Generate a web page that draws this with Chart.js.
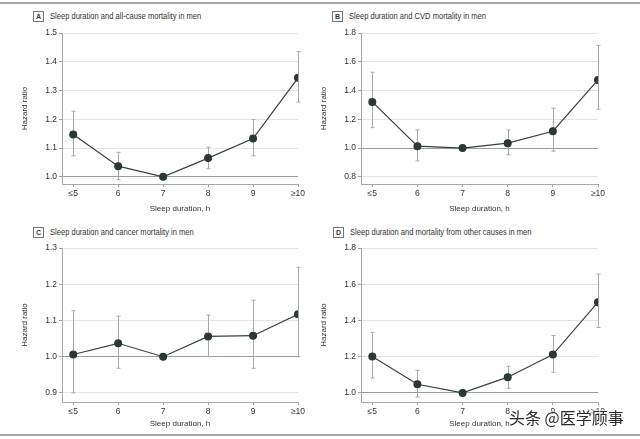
<!DOCTYPE html>
<html>
<head>
<meta charset="utf-8">
<script src="https://cdn.jsdelivr.net/npm/chart.js@4.4.1/dist/chart.umd.min.js"></script>
<style>
  body { margin: 0; background: #fff; }
  #page { position: relative; width: 640px; height: 439px; background: #fff; overflow: hidden;
          font-family: "Liberation Sans Narrow", "Liberation Sans", Arial, sans-serif; color: #333; }
  .rule { position: absolute; left: 0; width: 640px; height: 2px; background: #a5a5a5; }
  .title { position: absolute; font-size: 9px; line-height: 11px; white-space: nowrap; color: #333; }
  .title b { display: inline-block; width: 9px; height: 9px; line-height: 9px; border: 1px solid #777;
             text-align: center; font-size: 7px; margin-right: 6px; vertical-align: middle; }
  .title span { display: inline-block; vertical-align: middle; transform: scaleX(0.84); transform-origin: left center; }
  .panel { position: absolute; width: 300px; height: 190px; }
  #mark { position: absolute; left: 509px; top: 405px; font-family: "Noto Sans CJK SC", sans-serif;
          font-size: 16px; color: #2a2a2a; white-space: nowrap;
          text-shadow: 0 0 2px #fff, 0 0 2px #fff, 0 0 3px #fff; }
</style>
</head>
<body>
<div id="page">
  <div class="rule" style="top:2px"></div>
  <div class="rule" style="top:434px"></div>

  <div class="title" style="left:33px;top:11px"><b>A</b><span>Sleep duration and all-cause mortality in men</span></div>
  <div class="title" style="left:332px;top:11px"><b>B</b><span>Sleep duration and CVD mortality in men</span></div>
  <div class="title" style="left:33px;top:227px"><b>C</b><span>Sleep duration and cancer mortality in men</span></div>
  <div class="title" style="left:333px;top:227px"><b>D</b><span>Sleep duration and mortality from other causes in men</span></div>

  <div class="panel" style="left:20px;top:24px"><canvas id="chartA"></canvas></div>
  <div class="panel" style="left:319px;top:24px"><canvas id="chartB"></canvas></div>
  <div class="panel" style="left:20px;top:239px"><canvas id="chartC"></canvas></div>
  <div class="panel" style="left:319px;top:239px"><canvas id="chartD"></canvas></div>

  <div id="mark">头条 @医学顾事</div>
</div>

<script>
const sleepLabels = ['≤5', '6', '7', '8', '9', '≥10'];

// A: all-cause mortality
const allCauseHR = [1.147, 1.037, 1.0, 1.065, 1.133, 1.344];
const allCauseLow = [1.073, 0.990, 1.0, 1.028, 1.073, 1.260];
const allCauseHigh = [1.228, 1.085, 1.0, 1.103, 1.199, 1.435];
const allCauseTicks = [1.0, 1.1, 1.2, 1.3, 1.4, 1.5];

// B: CVD mortality
const cvdHR = [1.321, 1.013, 1.0, 1.034, 1.117, 1.474];
const cvdLow = [1.142, 0.911, 1.0, 0.953, 0.978, 1.270];
const cvdHigh = [1.527, 1.126, 1.0, 1.126, 1.277, 1.714];
const cvdTicks = [0.8, 1.0, 1.2, 1.4, 1.6, 1.8];

// C: cancer mortality
const cancerHR = [1.006, 1.037, 1.0, 1.056, 1.058, 1.117];
const cancerLow = [0.900, 0.968, 1.0, 1.000, 0.968, 1.000];
const cancerHigh = [1.127, 1.112, 1.0, 1.115, 1.156, 1.247];
const cancerTicks = [0.9, 1.0, 1.1, 1.2, 1.3];

// D: other causes
const otherHR = [1.201, 1.048, 1.0, 1.087, 1.212, 1.501];
const otherLow = [1.083, 0.978, 1.0, 1.026, 1.114, 1.361];
const otherHigh = [1.335, 1.125, 1.0, 1.147, 1.317, 1.656];
const otherTicks = [1.0, 1.2, 1.4, 1.6, 1.8];

const fontFamily = '"Liberation Sans Narrow", "Liberation Sans", Arial, sans-serif';

// confidence intervals drawn under the line
const errorBars = {
  id: 'errorBars',
  beforeDatasetsDraw(chart) {
    const { ctx, scales: { x, y } } = chart;
    const ds = chart.data.datasets[0];
    ctx.save();
    ctx.strokeStyle = '#a9a9a9';
    ctx.lineWidth = 1;
    ds.ciLow.forEach((lo, i) => {
      const hi = ds.ciHigh[i];
      if (lo === hi) return;
      const px = Math.round(x.getPixelForValue(i)) + 0.5;
      const pLo = y.getPixelForValue(lo);
      const pHi = y.getPixelForValue(hi);
      ctx.beginPath();
      ctx.moveTo(px, pLo); ctx.lineTo(px, pHi);
      ctx.moveTo(px - 2, pLo); ctx.lineTo(px + 2, pLo);
      ctx.moveTo(px - 2, pHi); ctx.lineTo(px + 2, pHi);
      ctx.stroke();
    });
    ctx.restore();
  }
};

function makeChart(id, hr, low, high, yTicks, yMin, yMax, padRight, xHeight) {
  const ctx = document.getElementById(id).getContext('2d');
  return new Chart(ctx, {
    type: 'line',
    data: {
      datasets: [{
        data: hr.map((v, i) => ({ x: i, y: v })),
        ciLow: low,
        ciHigh: high,
        borderColor: '#36423e',
        borderWidth: 1.2,
        pointRadius: 3.4,
        pointBackgroundColor: '#2b3834',
        pointBorderColor: '#2b3834',
        tension: 0
      }]
    },
    options: {
      responsive: true,
      maintainAspectRatio: false,
      animation: false,
      layout: { padding: { top: 9, right: padRight, left: 0, bottom: 0 } },
      plugins: { legend: { display: false }, tooltip: { enabled: false } },
      scales: {
        x: {
          type: 'linear',
          min: -0.25,
          max: 5,
          afterBuildTicks: s => { s.ticks = sleepLabels.map((_, i) => ({ value: i })); },
          afterFit: s => { s.height = xHeight; },
          ticks: {
            callback: v => sleepLabels[v],
            color: '#333',
            font: { family: fontFamily, size: 8.5 },
            padding: 2,
            maxRotation: 0
          },
          grid: { drawOnChartArea: false, drawTicks: true, tickLength: 3, color: '#a0a0a0' },
          border: { color: '#a8a8a8' },
          title: {
            display: true, text: 'Sleep duration, h', color: '#333',
            font: { family: fontFamily, size: 8 }, padding: { top: 1, bottom: 0 }
          }
        },
        y: {
          min: yMin,
          max: yMax,
          afterBuildTicks: s => { s.ticks = yTicks.map(v => ({ value: v })); },
          afterFit: s => { s.width = 42; },
          ticks: {
            callback: v => v.toFixed(1),
            color: '#333',
            font: { family: fontFamily, size: 8.5 },
            padding: 2
          },
          grid: {
            color: c => (c.tick && Math.abs(c.tick.value - 1) < 1e-9) ? '#9c9c9c' : '#e4e4e4',
            tickColor: '#a0a0a0',
            tickLength: 3
          },
          border: { color: '#a8a8a8' },
          title: {
            display: true, text: 'Hazard ratio', color: '#333',
            font: { family: fontFamily, size: 8 }, padding: { top: 0, bottom: 0 }
          }
        }
      }
    },
    plugins: [errorBars]
  });
}

makeChart('chartA', allCauseHR, allCauseLow, allCauseHigh, allCauseTicks, 0.975, 1.5, 22, 30);
makeChart('chartB', cvdHR, cvdLow, cvdHigh, cvdTicks, 0.75, 1.8, 21, 30);
makeChart('chartC', cancerHR, cancerLow, cancerHigh, cancerTicks, 0.875, 1.3, 22, 27);
makeChart('chartD', otherHR, otherLow, otherHigh, otherTicks, 0.95, 1.8, 21, 27);
</script>
</body>
</html>
